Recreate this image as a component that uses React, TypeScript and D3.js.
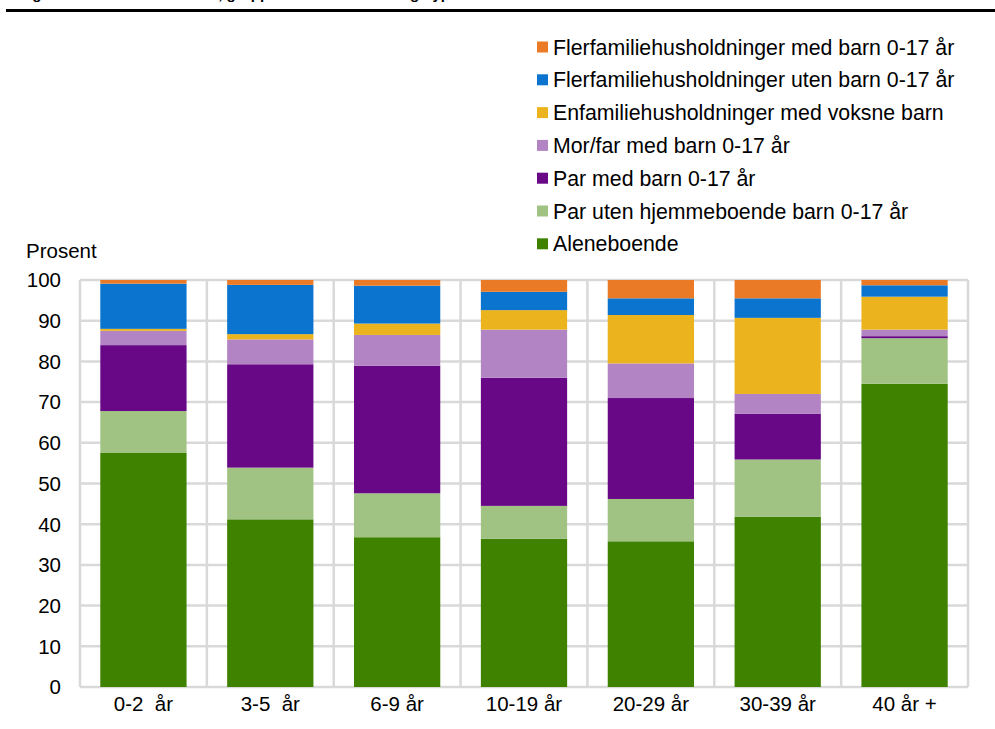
import React from "react";
import * as d3 from "d3";

const categories = ["0-2  år", "3-5  år", "6-9 år", "10-19 år", "20-29 år", "30-39 år", "40 år +"];

const seriesNames = [
  "Aleneboende",
  "Par uten hjemmeboende barn 0-17 år",
  "Par med barn 0-17 år",
  "Mor/far med barn 0-17 år",
  "Enfamiliehusholdninger med voksne barn",
  "Flerfamiliehusholdninger uten barn 0-17 år",
  "Flerfamiliehusholdninger med barn 0-17 år",
];

const aleneboende = [57.5, 41.2, 36.8, 36.4, 35.8, 41.8, 74.5];
const parUten = [10.3, 12.7, 10.8, 8.1, 10.4, 14.1, 11.2];
const parMed = [16.2, 25.4, 31.3, 31.5, 24.8, 11.2, 0.5];
const morFar = [3.5, 6.1, 7.6, 11.8, 8.5, 4.9, 1.6];
const enfamilie = [0.5, 1.3, 2.8, 4.8, 11.9, 18.7, 8.1];
const flerUten = [11.1, 12.1, 9.3, 4.5, 4.1, 4.8, 2.8];
const flerMed = [0.9, 1.2, 1.4, 2.9, 4.5, 4.5, 1.3];

const seriesValues = [aleneboende, parUten, parMed, morFar, enfamilie, flerUten, flerMed];

const colors = ["#3E8200", "#A0C383", "#680887", "#B384C4", "#EBB41F", "#0A74CF", "#EB7A26"];

const yTicks = [0, 10, 20, 30, 40, 50, 60, 70, 80, 90, 100];

const titleText = "Figur 3. Personer etter alder, gruppert etter husholdningstype";

export default function App() {
  const W = 995;
  const H = 729;
  const left = 80;
  const right = 968;
  const top = 280;
  const bottom = 687;
  const font = "'Liberation Sans', Arial, sans-serif";
  const fs = 20.5;
  const lfs = 21.3;

  const x = d3.scaleBand<string>().domain(categories).range([left, right]).paddingInner(0.32).paddingOuter(0.16);
  const y = d3.scaleLinear().domain([0, 100]).range([bottom, top]);

  const rows = categories.map((c, i) => {
    const r: any = { cat: c };
    seriesNames.forEach((s, k) => (r[s] = seriesValues[k][i]));
    return r;
  });
  const stacked = d3.stack<any>().keys(seriesNames)(rows);

  const step = x.step();
  const vLines = d3.range(categories.length + 1).map((i) => left + i * step);

  const legendOrder = seriesNames.map((s, k) => ({ name: s, color: colors[k] })).reverse();
  const grid = "#D9D9D9";

  return (
    <svg width={W} height={H} style={{ position: "absolute", left: 0, top: 0, background: "#fff" }} fontFamily={font}>
      <rect x={0} y={0} width={W} height={H} fill="#fff" />
      <text x={19} y={-1} fontSize={15} fontWeight="bold" fill="#000">{titleText}</text>
      <rect x={6} y={9} width={989} height={3} fill="#000" />

      {/* gridlines */}
      {yTicks.map((t) => (
        <line key={"h" + t} x1={left} x2={right} y1={y(t)} y2={y(t)} stroke={grid} strokeWidth={2.5} />
      ))}
      {vLines.map((vx, i) => (
        <line key={"v" + i} x1={vx} x2={vx} y1={top} y2={bottom} stroke={grid} strokeWidth={2.5} />
      ))}

      {/* bars */}
      {stacked.map((layer, k) => (
        <g key={layer.key} fill={colors[k]}>
          {layer.map((d, i) => (
            <rect
              key={i}
              x={x(categories[i])}
              width={x.bandwidth()}
              y={y(d[1])}
              height={Math.max(0, y(d[0]) - y(d[1]))}
            />
          ))}
        </g>
      ))}

      {/* y ticks */}
      {yTicks.map((t) => (
        <text key={"yt" + t} x={61} y={y(t)} dy="0.36em" textAnchor="end" fontSize={fs} fill="#000">
          {t}
        </text>
      ))}
      <text x={26} y={251} dy="0.36em" fontSize={fs} fill="#000">Prosent</text>

      {/* x labels */}
      {categories.map((c) => (
        <text
          key={"xl" + c}
          x={(x(c) as number) + x.bandwidth() / 2}
          y={704}
          dy="0.36em"
          textAnchor="middle"
          fontSize={fs}
          fill="#000"
          style={{ whiteSpace: "pre" }}
        >
          {c}
        </text>
      ))}

      {/* legend */}
      {legendOrder.map((l, i) => {
        const cy = 47 + i * 32.8;
        return (
          <g key={"lg" + i}>
            <rect x={537} y={cy - 5.5} width={11} height={11} fill={l.color} />
            <text x={553} y={cy} dy="0.36em" fontSize={lfs} fill="#000">{l.name}</text>
          </g>
        );
      })}
    </svg>
  );
}
